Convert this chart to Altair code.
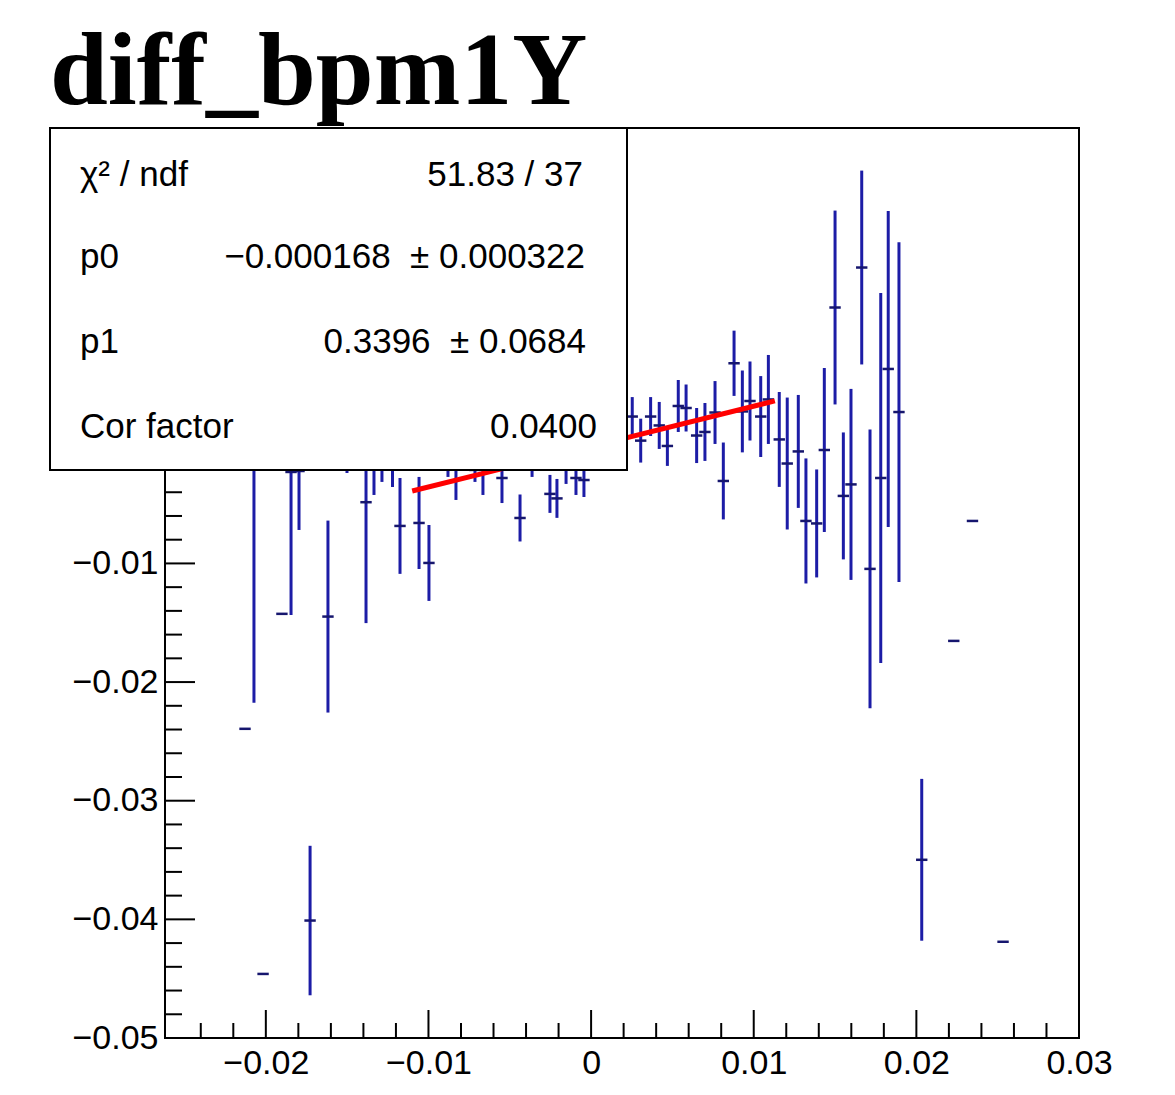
import altair as alt
import pandas as pd

# ---------------- data ----------------
title_text = "diff_bpm1Y"

x_vals = [-0.02128, -0.02073, -0.02017, -0.01901, -0.01845, -0.01796, -0.01728, -0.01618,
          -0.01501, -0.01384, -0.01335, -0.01286, -0.01221, -0.01175, -0.01058, -0.00997,
          -0.00941, -0.00880, -0.00831, -0.00769, -0.00714, -0.00665, -0.00610, -0.00548,
          -0.00493, -0.00437, -0.00363, -0.00308, -0.00253, -0.00210, -0.00154, -0.00093,
          -0.00044, 0.00012, 0.00067, 0.00129, 0.00185, 0.00253, 0.00305, 0.00366,
          0.00419, 0.00469, 0.00536, 0.00584, 0.00649, 0.00700, 0.00762, 0.00813,
          0.00879, 0.00930, 0.00977, 0.01043, 0.01090, 0.01157, 0.01206, 0.01274,
          0.01321, 0.01387, 0.01434, 0.01500, 0.01551, 0.01598, 0.01664, 0.01715,
          0.01781, 0.01827, 0.01893, 0.02033, 0.02230, 0.02345, 0.02533]

y_vals = [-0.02394, -0.00086, -0.04460, -0.01425, -0.00229, -0.00221, -0.04010, -0.01448,
          -0.00086, -0.00484, -0.00128, -0.00145, -0.00145, -0.00684, -0.00659, -0.00996,
          -0.00044, -0.00086, -0.00170, -0.00061, -0.00212, -0.00170, -0.00027, -0.00280,
          -0.00002, -0.00617, -0.00128, 0.00024, -0.00414, -0.00452, -0.00145, -0.00280,
          -0.00297, 0.00040, -0.00002, 0.00108, 0.00057, 0.00238, 0.00035, 0.00238,
          0.00163, -0.00010, 0.00327, 0.00310, 0.00078, 0.00108, 0.00272, -0.00305,
          0.00687, 0.00281, 0.00369, 0.00238, 0.00382, 0.00045, -0.00158, -0.00056,
          -0.00642, -0.00663, -0.00044, 0.01157, -0.00431, -0.00334, 0.01494, -0.01046,
          -0.00280, 0.00639, 0.00276, -0.03498, -0.01653, -0.00642, -0.04189]

y_errs = [0.0, 0.02089, 0.0, 0.0, 0.01205, 0.00497, 0.00630, 0.00809,
          0.00152, 0.01019, 0.00295, 0.00168, 0.00211, 0.00404, 0.00388, 0.00320,
          0.00126, 0.00185, 0.00295, 0.00101, 0.00101, 0.00253, 0.00126, 0.00211,
          0.00118, 0.00198, 0.00143, 0.00135, 0.00160, 0.00164, 0.00185, 0.00143,
          0.00143, 0.00152, 0.00135, 0.00168, 0.00152, 0.00164, 0.00185, 0.00164,
          0.00198, 0.00168, 0.00219, 0.00198, 0.00232, 0.00244, 0.00265, 0.00324,
          0.00275, 0.00345, 0.00333, 0.00341, 0.00375, 0.00400, 0.00556, 0.00476,
          0.00527, 0.00455, 0.00691, 0.00817, 0.00535, 0.00805, 0.00817, 0.01175,
          0.01559, 0.01331, 0.01432, 0.00682, 0.0, 0.0, 0.0]

x_half_width = 0.00035

fit_x = [-0.0110, 0.0113]
fit_y = [-0.0039, 0.0037]

stat_labels = ["\u03c7\u00b2 / ndf", "p0", "p1", "Cor factor"]
stat_values = ["51.83 / 37", "\u22120.000168\u00a0 \u00b1 0.000322", "0.3396\u00a0 \u00b1 0.0684", "0.0400"]

x_major = [-0.02, -0.01, 0.0, 0.01, 0.02, 0.03]
x_minor = [-0.024, -0.022, -0.018, -0.016, -0.014, -0.012, -0.008, -0.006, -0.004, -0.002,
           0.002, 0.004, 0.006, 0.008, 0.012, 0.014, 0.016, 0.018, 0.022, 0.024, 0.026, 0.028]
y_major = [-0.05, -0.04, -0.03, -0.02, -0.01, 0.0, 0.01, 0.02]
y_label_values = [-0.05, -0.04, -0.03, -0.02, -0.01]
y_minor = [-0.048, -0.046, -0.044, -0.042, -0.038, -0.036, -0.034, -0.032, -0.028, -0.026,
           -0.024, -0.022, -0.018, -0.016, -0.014, -0.012, -0.008, -0.006, -0.004, -0.002,
           0.002, 0.004, 0.006, 0.008, 0.012, 0.014, 0.016, 0.018, 0.022, 0.024, 0.026]

# ---------------- layout / style ----------------
X_DOMAIN = [-0.0262, 0.03]
Y_DOMAIN = [-0.05, 0.0267]
W, H = 914, 910
BLUE = "#1c1ca6"
DARK = "#16166e"
SANS = "Liberation Sans"

df = pd.DataFrame({"x": x_vals, "y": y_vals, "e": y_errs})
df["lo"] = df["y"] - df["e"]
df["hi"] = df["y"] + df["e"]
df["xl"] = df["x"] - x_half_width
df["xh"] = df["x"] + x_half_width
df_err = df[df["e"] > 0]

xs = alt.Scale(domain=X_DOMAIN, nice=False, zero=False)
ys = alt.Scale(domain=Y_DOMAIN, nice=False, zero=False)

label_expr = "datum.value == 0 ? '0' : replace(format(datum.value, '.2f'), '-', '\u2212')"
x_axis = alt.Axis(values=x_major, ticks=False, domain=False, grid=False, title=None,
                  labelFont=SANS, labelFontSize=34, labelColor="black", labelPadding=8,
                  labelFlush=False, labelExpr=label_expr)
y_axis = alt.Axis(values=y_label_values, ticks=False, domain=False, grid=False, title=None,
                  labelFont=SANS, labelFontSize=34, labelColor="black", labelPadding=7,
                  labelFlush=False, labelExpr=label_expr)

# ticks drawn inward (ROOT style)
ytick_major = alt.Chart(pd.DataFrame({"v": y_major})).mark_rule(color="black", strokeWidth=2).encode(
    y=alt.Y("v:Q", scale=ys, axis=y_axis), x=alt.value(0), x2=alt.value(30))
ytick_minor = alt.Chart(pd.DataFrame({"v": y_minor})).mark_rule(color="black", strokeWidth=2).encode(
    y=alt.Y("v:Q", scale=ys, axis=y_axis), x=alt.value(0), x2=alt.value(17))
xtick_major = alt.Chart(pd.DataFrame({"v": x_major})).mark_rule(color="black", strokeWidth=2).encode(
    x=alt.X("v:Q", scale=xs, axis=x_axis), y=alt.value(H), y2=alt.value(H - 28))
xtick_minor = alt.Chart(pd.DataFrame({"v": x_minor})).mark_rule(color="black", strokeWidth=2).encode(
    x=alt.X("v:Q", scale=xs, axis=x_axis), y=alt.value(H), y2=alt.value(H - 15))

vbars = alt.Chart(df_err).mark_rule(color=BLUE, strokeWidth=3).encode(
    x=alt.X("x:Q", scale=xs, axis=x_axis),
    y=alt.Y("lo:Q", scale=ys, axis=y_axis),
    y2="hi:Q")
hbars = alt.Chart(df).mark_rule(color=DARK, strokeWidth=2.5).encode(
    x=alt.X("xl:Q", scale=xs, axis=x_axis),
    x2="xh:Q",
    y=alt.Y("y:Q", scale=ys, axis=y_axis))

fit = alt.Chart(pd.DataFrame({"fx": fit_x, "fy": fit_y})).mark_line(color="#ff0000", strokeWidth=5).encode(
    x=alt.X("fx:Q", scale=xs, axis=x_axis),
    y=alt.Y("fy:Q", scale=ys, axis=y_axis))

one = pd.DataFrame({"a": [0]})
stat_box = alt.Chart(one).mark_rect(fill="white", stroke="black", strokeWidth=2).encode(
    x=alt.value(-115), x2=alt.value(462), y=alt.value(0), y2=alt.value(342))

row_y = [58, 140, 225, 310]
value_right = [418, 420, 421, 432]
stat_layers = []
for i in range(4):
    stat_layers.append(
        alt.Chart(pd.DataFrame({"t": [stat_labels[i]]})).mark_text(
            font=SANS, fontSize=35, align="left", baseline="alphabetic", color="black").encode(
            x=alt.value(-85), y=alt.value(row_y[i]), text="t:N"))
    stat_layers.append(
        alt.Chart(pd.DataFrame({"t": [stat_values[i]]})).mark_text(
            font=SANS, fontSize=35, align="right", baseline="alphabetic", color="black").encode(
            x=alt.value(value_right[i]), y=alt.value(row_y[i]), text="t:N"))

title = alt.Chart(pd.DataFrame({"t": [title_text]})).mark_text(
    font="Liberation Serif", fontWeight="bold", fontSize=104, align="left",
    baseline="alphabetic", color="black").encode(
    x=alt.value(-115), y=alt.value(-24), text="t:N")

chart = alt.layer(
    ytick_minor, ytick_major, xtick_minor, xtick_major,
    vbars, hbars, fit, stat_box, *stat_layers, title
).properties(
    width=W, height=H,
    padding={"left": 157, "top": 120, "right": 80, "bottom": 48},
    autosize=alt.AutoSizeParams(type="none"),
    background="white",
).configure_view(stroke="black", strokeWidth=2)

chart.save("out.html", embed_options={"renderer": "svg", "actions": False})
